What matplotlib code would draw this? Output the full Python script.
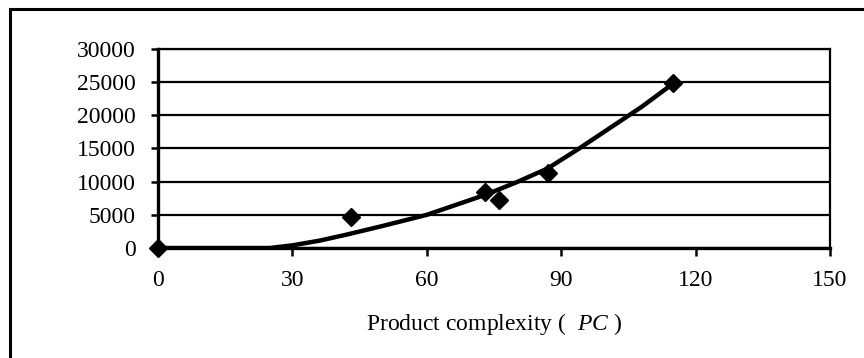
import matplotlib
matplotlib.use("Agg")
import matplotlib.pyplot as plt
from matplotlib.patches import Rectangle

# observed points (product complexity vs value)
pc_points = [0, 43, 73, 76, 87, 115]
val_points = [0, 4600, 8400, 7250, 11300, 24850]

# trend curve
pc_curve = [0, 25, 30, 36, 42, 50, 60, 73, 80, 87, 94, 100, 108, 115]
val_curve = [0, 0, 400, 1100, 2000, 3300, 5000, 8000, 9900, 12000, 15000, 17700, 21300, 24800]

x_ticks = [0, 30, 60, 90, 120, 150]
y_ticks = [0, 5000, 10000, 15000, 20000, 25000, 30000]

plt.rcParams['font.family'] = ['Liberation Serif', 'DejaVu Serif']
plt.rcParams['mathtext.fontset'] = 'custom'
plt.rcParams['mathtext.it'] = 'Liberation Serif:italic'
plt.rcParams['mathtext.rm'] = 'Liberation Serif'

fig = plt.figure(figsize=(8.64, 3.58), dpi=100)
ax = fig.add_axes([0.1829, 0.3073, 0.7778, 0.5559])

# outer frame, cut off at right and bottom
fig.patches.append(Rectangle((10 / 864, -0.1), 1.2, 1 - 9 / 358 + 0.1,
                             transform=fig.transFigure, fill=False,
                             edgecolor='black', linewidth=2.2))

ax.plot(pc_curve, val_curve, color='black', linewidth=3.2, solid_capstyle='butt',
        zorder=3)
ax.plot(pc_points, val_points, linestyle='none', marker='D', markersize=9.5,
        color='black', zorder=4, clip_on=False)

ax.set_xlim(0, 150)
ax.set_ylim(0, 30000)
ax.set_xticks(x_ticks)
ax.set_yticks(y_ticks)
ax.yaxis.grid(True, color='black', linewidth=1.6)
ax.set_axisbelow(True)

for side in ['left', 'bottom']:
    ax.spines[side].set_linewidth(2.4)
for side in ['top', 'right']:
    ax.spines[side].set_linewidth(1.6)

ax.tick_params(axis='y', direction='out', length=5, width=1.8, pad=11,
               labelsize=17)
ax.tick_params(axis='x', direction='out', length=6, width=1.8, pad=10,
               labelsize=17)

ax.set_xlabel(r'Product complexity (  $\it{PC}$ )', fontsize=17, labelpad=14)

plt.savefig("out.png", dpi=100)
